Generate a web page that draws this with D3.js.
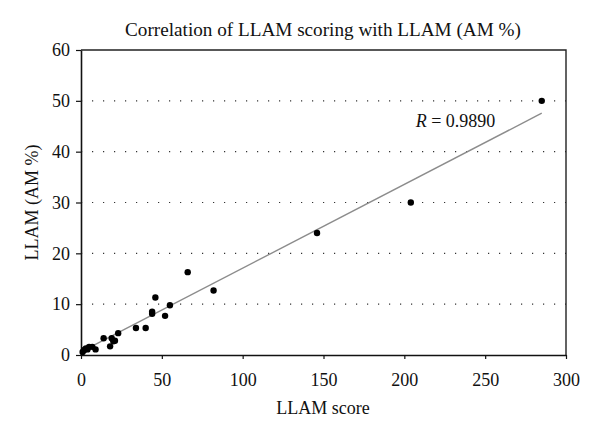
<!DOCTYPE html>
<html>
<head>
<meta charset="utf-8">
<script src="https://cdn.jsdelivr.net/npm/d3@7"></script>
<style>
  body { margin: 0; background: #fff; }
  svg text { font-family: "Liberation Serif", "DejaVu Serif", serif; fill: #111; }
</style>
</head>
<body>
<div id="chart"></div>
<script>
// LLAM score vs LLAM (AM %)
var scores = [1, 2, 3, 4, 5, 7, 9, 14, 18, 19, 20, 21, 23, 34, 40, 44, 44, 46, 52, 55, 66, 82, 146, 204, 285];
var amPct  = [0.6, 1.0, 1.3, 1.1, 1.6, 1.6, 1.1, 3.3, 1.7, 3.3, 2.7, 2.8, 4.3, 5.3, 5.3, 8.1, 8.5, 11.3, 7.7, 9.8, 16.3, 12.7, 24, 30, 50];
var xTicks = [0, 50, 100, 150, 200, 250, 300];
var yTicks = [0, 10, 20, 30, 40, 50, 60];
var gridTicks = [10, 20, 30, 40, 50];
// trend line end points (x), slope/intercept as drawn
var trendX = [0, 285];
var slope = 0.1648, intercept = 0.6;

var svgWidth = 600, svgHeight = 438;
var margin = {top: 50, right: 34, bottom: 83, left: 81},
    width = svgWidth - margin.left - margin.right,
    height = svgHeight - margin.top - margin.bottom;

var x = d3.scaleLinear().domain([0, 300]).range([0, width]),
    y = d3.scaleLinear().domain([0, 60]).range([height, 0]);

var svg = d3.select("#chart").append("svg")
    .attr("width", svgWidth)
    .attr("height", svgHeight);
var g = svg.append("g")
    .attr("transform", "translate(" + margin.left + "," + margin.top + ")");

// dotted gridlines
g.selectAll(".grid")
    .data(gridTicks)
    .enter().append("line")
    .attr("class", "grid")
    .attr("x1", 0).attr("x2", width)
    .attr("y1", function(d) { return y(d); })
    .attr("y2", function(d) { return y(d); })
    .attr("stroke", "#333")
    .attr("stroke-width", 1.2)
    .attr("stroke-dasharray", "1.2,9.8");

// frame (top and right)
g.append("path")
    .attr("d", "M0,0H" + width + "V" + height)
    .attr("fill", "none")
    .attr("stroke", "#222")
    .attr("stroke-width", 1.4);

var xAxis = g.append("g")
    .attr("transform", "translate(0," + height + ")")
    .call(d3.axisBottom(x).tickValues(xTicks).tickSize(4).tickSizeOuter(0).tickPadding(14));
var yAxis = g.append("g")
    .call(d3.axisLeft(y).tickValues(yTicks).tickSize(5).tickSizeOuter(0).tickPadding(6));

[xAxis, yAxis].forEach(function(a) {
  a.select(".domain").attr("stroke", "#111").attr("stroke-width", 1.6);
  a.selectAll(".tick line").attr("stroke", "#111").attr("stroke-width", 1.2);
  a.selectAll(".tick text").attr("font-size", "18px").attr("fill", "#111")
      .style("font-family", "'Liberation Serif', serif");
});

// trend line
g.append("line")
    .attr("x1", x(trendX[0])).attr("y1", y(slope * trendX[0] + intercept))
    .attr("x2", x(trendX[1])).attr("y2", y(slope * trendX[1] + intercept))
    .attr("stroke", "#8c8c8c")
    .attr("stroke-width", 1.4);

// points
g.selectAll(".dot")
    .data(scores)
    .enter().append("circle")
    .attr("class", "dot")
    .attr("cx", function(d) { return x(d); })
    .attr("cy", function(d, i) { return y(amPct[i]); })
    .attr("r", 3.2)
    .attr("fill", "#000");

// R annotation
var rText = g.append("text")
    .attr("x", x(207))
    .attr("y", y(44.9))
    .attr("font-size", "18px");
rText.append("tspan").attr("font-style", "italic").text("R");
rText.append("tspan").text(" = 0.9890");

// title
svg.append("text")
    .attr("x", 323)
    .attr("y", 36)
    .attr("text-anchor", "middle")
    .attr("font-size", "19.2px")
    .text("Correlation of LLAM scoring with LLAM (AM %)");

// axis titles
svg.append("text")
    .attr("x", 323)
    .attr("y", 414)
    .attr("text-anchor", "middle")
    .attr("font-size", "18px")
    .text("LLAM score");

svg.append("text")
    .attr("transform", "translate(38," + (margin.top + height / 2) + ") rotate(-90)")
    .attr("text-anchor", "middle")
    .attr("font-size", "18px")
    .text("LLAM (AM %)");
</script>
</body>
</html>
